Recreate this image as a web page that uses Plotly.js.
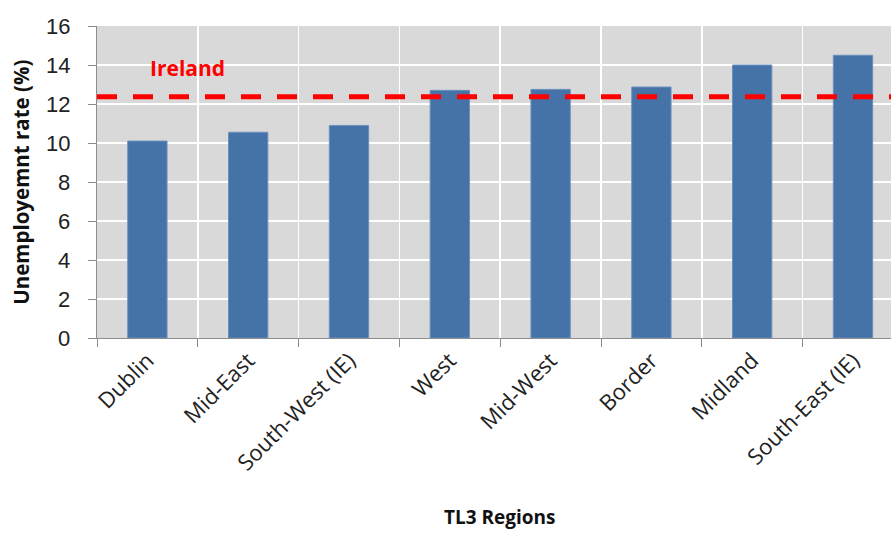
<!DOCTYPE html>
<html>
<head>
<meta charset="utf-8">
<script src="https://cdn.plot.ly/plotly-3.0.1.min.js"></script>
<style>html,body{margin:0;padding:0;background:#fff;}#chart{width:891px;height:533px;}</style>
</head>
<body>
<div id="chart"></div>
<script>
var regions = ["Dublin", "Mid-East", "South-West (IE)", "West", "Mid-West", "Border", "Midland", "South-East (IE)"];
var unemploymentRate = [10.1, 10.55, 10.9, 12.7, 12.75, 12.87, 14.0, 14.5];
var irelandRate = 12.37;
var irelandLabel = "Ireland";
var yTicks = [0, 2, 4, 6, 8, 10, 12, 14, 16];

var bars = {
  type: "bar",
  x: regions,
  y: unemploymentRate,
  width: 0.39,
  marker: {color: "#4572a7", line: {color: "#6a90bf", width: 1}},
  hoverinfo: "x+y"
};

var annotations = [
  {text: "<b>" + irelandLabel + "</b>", xref: "paper", yref: "y", x: 0.064, y: irelandRate + 1.5,
   xanchor: "left", yanchor: "middle", showarrow: false,
   font: {family: "Open Sans, Liberation Sans, sans-serif", size: 21, color: "#ff0000"}},
  {text: "<b>Unemployemnt rate (%)</b>", xref: "paper", yref: "paper", x: -0.096, y: 0.5,
   textangle: -90, showarrow: false, xanchor: "center", yanchor: "middle",
   font: {family: "Open Sans, Liberation Sans, sans-serif", size: 20.5, color: "#111"}},
  {text: "<b>TL3 Regions</b>", xref: "paper", yref: "paper", x: 0.508, y: -0.575,
   showarrow: false, xanchor: "center", yanchor: "middle",
   font: {family: "Open Sans, Liberation Sans, sans-serif", size: 19, color: "#111"}}
];
yTicks.forEach(function (v) {
  annotations.push({text: String(v), xref: "paper", yref: "y", x: -0.031, y: v,
    xanchor: "right", yanchor: "middle", showarrow: false,
    font: {family: "Liberation Sans, Arial, sans-serif", size: 22, color: "#222"}});
});

var layout = {
  width: 891, height: 533,
  margin: {l: 97, r: 0, t: 26, b: 195},
  paper_bgcolor: "#ffffff",
  plot_bgcolor: "#d9d9d9",
  showlegend: false,
  font: {family: "Liberation Sans, Arial, sans-serif", color: "#222"},
  xaxis: {
    type: "category",
    range: [-0.5, 7.377],
    tickson: "boundaries",
    showgrid: true, gridcolor: "#ffffff", gridwidth: 1.5,
    ticks: "outside", ticklen: 8, tickcolor: "#8c8c8c",
    showline: true, linecolor: "#8c8c8c", linewidth: 1,
    tickangle: -45,
    tickfont: {family: "Open Sans, Liberation Sans, sans-serif", size: 22, color: "#222"},
    title: {text: ""}
  },
  yaxis: {
    range: [0, 16],
    tickvals: yTicks,
    showticklabels: false,
    showgrid: true, gridcolor: "#ffffff", gridwidth: 1.5,
    zeroline: false,
    ticks: "outside", ticklen: 8, tickcolor: "#8c8c8c",
    showline: true, linecolor: "#8c8c8c", linewidth: 1,
    title: {text: ""}
  },
  shapes: [{
    type: "line", xref: "paper", yref: "y",
    x0: 0, x1: 1, y0: irelandRate, y1: irelandRate,
    line: {color: "#ff0000", width: 5, dash: "20px,16px"}
  }],
  annotations: annotations
};

Plotly.newPlot("chart", [bars], layout, {displayModeBar: false, staticPlot: true});
</script>
</body>
</html>
